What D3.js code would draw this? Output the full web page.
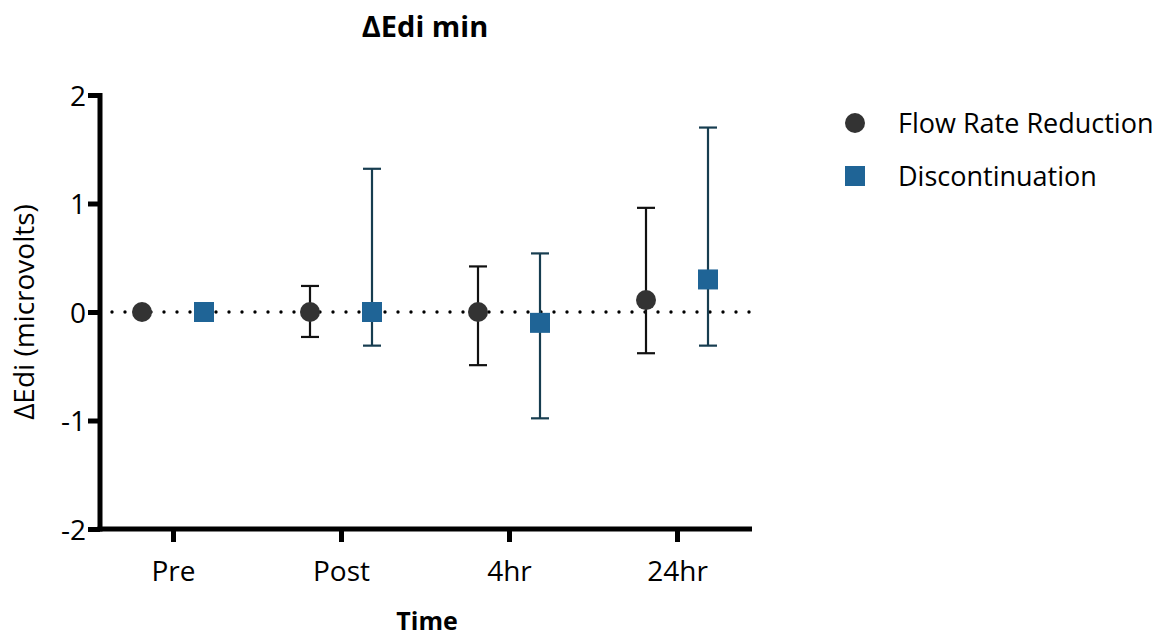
<!DOCTYPE html>
<html><head><meta charset="utf-8">
<script src="https://cdn.jsdelivr.net/npm/d3@7"></script>
<style>body{margin:0;background:#fff;} svg{display:block;font-family:"Open Sans",sans-serif;}</style>
</head><body>
<svg id="c" width="1163" height="638"></svg>
<script>
const categories = ["Pre", "Post", "4hr", "24hr"];
const seriesNames = ["Flow Rate Reduction", "Discontinuation"];
const frrMean = [0, 0, 0, 0.11];
const frrLow  = [null, -0.23, -0.49, -0.38];
const frrHigh = [null, 0.24, 0.42, 0.96];
const discMean = [0, 0, -0.10, 0.30];
const discLow  = [null, -0.31, -0.98, -0.31];
const discHigh = [null, 1.32, 0.54, 1.70];
const yTicks = [-2, -1, 0, 1, 2];

const FONT = "'Open Sans', sans-serif";
const svg = d3.select("#c");
const L = 100, R = 752, T = 95, B = 529;
const x = d3.scalePoint().domain(categories).range([173, 677]);
const y = d3.scaleLinear().domain([-2, 2]).range([B, T]);
const off = 31;
const colCircle = "#333333", colSquare = "#1f6496", colSqErr = "#173d50";

// dotted zero line
svg.append("line").attr("x1", L+12).attr("x2", R).attr("y1", y(0)).attr("y2", y(0))
  .attr("stroke", "#000").attr("stroke-width", 3.4).attr("stroke-linecap", "round")
  .attr("stroke-dasharray", "0 13");

// axes
const yAxis = svg.append("g").attr("transform", `translate(${L},0)`)
  .call(d3.axisLeft(y).tickValues(yTicks).tickSize(12).tickPadding(2).tickFormat(d => String(d)));
const xAxis = svg.append("g").attr("transform", `translate(0,${B})`)
  .call(d3.axisBottom(x).tickSize(13).tickPadding(19));
[yAxis, xAxis].forEach(g => {
  g.select(".domain").remove();
  g.selectAll(".tick line").attr("stroke", "#000").attr("stroke-width", 5);
  g.selectAll(".tick text").attr("fill", "#000").style("font-size", "28px").style("font-family", FONT);
});
yAxis.selectAll(".tick text").attr("dy", "0.36em");
svg.append("line").attr("x1", L).attr("x2", L).attr("y1", T-2).attr("y2", B+2.5).attr("stroke", "#000").attr("stroke-width", 5);
svg.append("line").attr("x1", L-2.5).attr("x2", R).attr("y1", B).attr("y2", B).attr("stroke", "#000").attr("stroke-width", 5);

// error bars
function errBars(mean, lo, hi, dx, color) {
  const data = categories.map((c, i) => ({c, lo: lo[i], hi: hi[i]})).filter(d => d.lo !== null);
  const g = svg.append("g").attr("stroke", color).attr("stroke-width", 2.2);
  g.selectAll(".v").data(data).join("line")
    .attr("x1", d => x(d.c)+dx).attr("x2", d => x(d.c)+dx)
    .attr("y1", d => y(d.lo)).attr("y2", d => y(d.hi));
  g.selectAll(".t").data(data).join("line")
    .attr("x1", d => x(d.c)+dx-9).attr("x2", d => x(d.c)+dx+9)
    .attr("y1", d => y(d.hi)).attr("y2", d => y(d.hi));
  g.selectAll(".b").data(data).join("line")
    .attr("x1", d => x(d.c)+dx-9).attr("x2", d => x(d.c)+dx+9)
    .attr("y1", d => y(d.lo)).attr("y2", d => y(d.lo));
}
errBars(frrMean, frrLow, frrHigh, -off, "#111");
errBars(discMean, discLow, discHigh, off, colSqErr);

svg.append("g").selectAll("circle").data(categories).join("circle")
  .attr("cx", (c) => x(c)-off).attr("cy", (c, i) => y(frrMean[i])).attr("r", 10).attr("fill", colCircle);
svg.append("g").selectAll("rect").data(categories).join("rect")
  .attr("x", c => x(c)+off-10).attr("y", (c, i) => y(discMean[i])-10).attr("width", 20).attr("height", 20).attr("fill", colSquare);

// title and labels
svg.append("text").attr("x", 425).attr("y", 37).attr("text-anchor", "middle")
  .style("font-size", "29px").style("font-weight", "bold").text("ΔEdi min");
svg.append("text").attr("x", 427).attr("y", 630).attr("text-anchor", "middle")
  .style("font-size", "25px").style("font-weight", "bold").text("Time");
svg.append("text").attr("transform", `translate(34,${y(0)}) rotate(-90)`).attr("text-anchor", "middle")
  .style("font-size", "28px").text("ΔEdi (microvolts)");

// legend
const lg = svg.append("g");
lg.append("circle").attr("cx", 855).attr("cy", 123).attr("r", 10).attr("fill", colCircle);
lg.append("rect").attr("x", 845).attr("y", 166).attr("width", 20).attr("height", 20).attr("fill", colSquare);
lg.selectAll("text").data(seriesNames).join("text")
  .attr("x", 898).attr("y", (d, i) => 123 + i*53).attr("dy", "0.36em")
  .style("font-size", "27px").text(d => d);
</script>
</body></html>
